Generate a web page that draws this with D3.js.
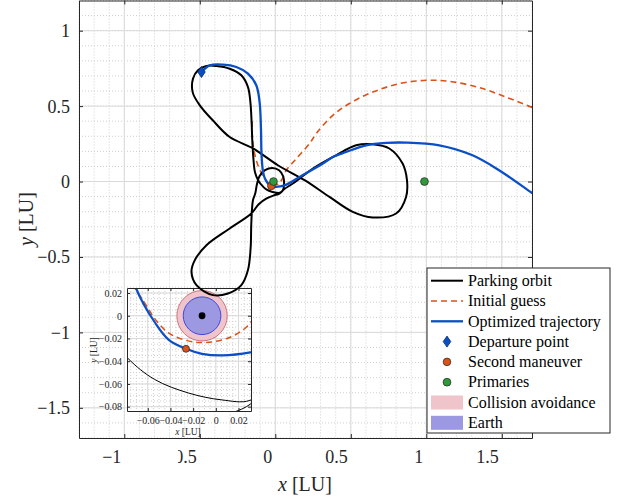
<!DOCTYPE html>
<meta charset="utf-8">
<title>Transfer trajectory</title>
<style>

body {
  margin: 0px;
  background: #fff;
}

svg {
  font-family: "Liberation Serif", "Times New Roman", "DejaVu Serif", serif;
}

.minor line {
  stroke: #cfcfcf;
  stroke-width: 1px;
  stroke-dasharray: 1,2;
}

.major line {
  stroke: #dadada;
  stroke-width: 1px;
}

.axis path, .axis line {
  stroke: #262626;
}

.axis text {
  fill: #262626;
}

</style>

<script src="https://d3js.org/d3.v7.min.js"></script>

<body>
<script>

var width = 622, height = 499;

// mass parameter of the Earth-Moon system
var mu = 0.01215;

// traced curves, [x, y] in LU
var parkingOrbit = [
  [-0.512, 0.737], [-0.456, 0.766], [-0.390, 0.766], [-0.302, 0.748], [-0.225, 0.704],
  [-0.181, 0.626], [-0.165, 0.527], [-0.157, 0.395], [-0.152, 0.262], [-0.145, 0.152],
  [-0.135, 0.064], [-0.112, 0.005], [-0.078, -0.037], [-0.054, -0.056], [-0.024, -0.068],
  [0.005, -0.074], [0.030, -0.0745], [0.050, -0.058], [0.058, -0.02], [0.052, 0.035],
  [0.025, 0.075], [-0.020, 0.090], [-0.068, 0.075], [-0.105, 0.035], [-0.122, -0.02],
  [-0.133, -0.08], [-0.148, -0.124], [-0.159, -0.278], [-0.163, -0.433], [-0.181, -0.587],
  [-0.225, -0.687], [-0.313, -0.742], [-0.412, -0.753], [-0.522, -0.687], [-0.555, -0.599],
  [-0.533, -0.521], [-0.456, -0.422], [-0.302, -0.311], [-0.159, -0.212], [-0.11, -0.150],
  [-0.06, -0.113], [-0.01, -0.092], [0.027, -0.08], [0.06, -0.05], [0.116, -0.013],
  [0.249, 0.086], [0.403, 0.174], [0.535, 0.240], [0.645, 0.247], [0.755, 0.219],
  [0.843, 0.119], [0.872, 0.009], [0.866, -0.102], [0.800, -0.212], [0.645, -0.238],
  [0.513, -0.201], [0.359, -0.102], [0.194, 0.009], [0.017, 0.108], [-0.150, 0.221],
  [-0.302, 0.295], [-0.414, 0.406], [-0.500, 0.505], [-0.547, 0.591], [-0.545, 0.682]
];

var initialGuess = [
  [-0.153, 0.40], [-0.152, 0.30], [-0.14, 0.20], [-0.115, 0.108], [-0.088, 0.05],
  [-0.0636, 0.0127], [-0.0519, -0.005], [-0.0415, -0.0153], [-0.0298, -0.0206],
  [-0.0151, -0.0235], [-0.0004, -0.0226], [0.0143, -0.0182], [0.0275, -0.0094],
  [0.045, 0.015], [0.073, 0.075], [0.139, 0.152], [0.227, 0.252], [0.271, 0.318],
  [0.381, 0.439], [0.491, 0.517], [0.645, 0.593], [0.822, 0.649], [0.998, 0.671],
  [1.152, 0.664], [1.350, 0.623], [1.527, 0.560], [1.681, 0.499], [1.75, 0.47]
];

var optimized = [
  [-0.489, 0.726], [-0.434, 0.770], [-0.346, 0.775], [-0.258, 0.759], [-0.181, 0.715],
  [-0.126, 0.638], [-0.104, 0.527], [-0.095, 0.351], [-0.091, 0.174], [-0.082, 0.070],
  [-0.0704, 0.0244], [-0.0534, -0.0064], [-0.0415, -0.0212], [-0.0263, -0.0291],
  [-0.0122, -0.0335], [0.0055, -0.0349], [0.0304, -0.0323], [0.07, -0.022],
  [0.161, 0.030], [0.315, 0.119], [0.381, 0.163], [0.469, 0.196], [0.601, 0.240],
  [0.734, 0.256], [0.866, 0.258], [1.086, 0.240], [1.306, 0.174], [1.482, 0.075],
  [1.696, -0.073], [1.75, -0.11]
];

var departure = [-0.489, 0.726];
var secondManeuver = [-0.0263, -0.0291];
var primaries = [[-mu, 0], [1 - mu, 0]];

var earthRadius = 0.0166;
var collisionRadius = 0.0222;

var xTicks = [-1, -0.5, 0, 0.5, 1, 1.5];
var yTicks = [-1.5, -1, -0.5, 0, 0.5, 1];
var insetXTicks = [-0.06, -0.04, -0.02, 0, 0.02];
var insetYTicks = [-0.08, -0.06, -0.04, -0.02, 0, 0.02];

var legendLabels = ["Parking orbit", "Initial guess", "Optimized trajectory", "Departure point",
                    "Second maneuver", "Primaries", "Collision avoidance", "Earth"];

var colors = {
  orbit: "#000000",
  guess: "#D95319",
  opt: "#0a4fc6",
  green: "#2f9a3a",
  pink: "#f0c4cb",
  pinkEdge: "#cf7480",
  earth: "#9c98e2",
  earthEdge: "#4049dc"
};

var serif = "Liberation Serif, Times New Roman, DejaVu Serif, serif";

var svg = d3.select("body").append("svg")
    .attr("width", width)
    .attr("height", height);

// ---------- main axes ----------
var x = d3.scaleLinear().domain([-1.3, 1.7]).range([79, 532]);
var y = d3.scaleLinear().domain([-1.7, 1.2]).range([438, 0.5]);

var main = svg.append("g");

main.append("defs").append("clipPath")
    .attr("id", "clipMain")
  .append("rect")
    .attr("x", 79).attr("y", 0.5)
    .attr("width", 453).attr("height", 437.5);

var minorX = d3.range(-13, 18).map(function(d) { return d / 10; });
var minorY = d3.range(-17, 13).map(function(d) { return d / 10; });

main.append("g").attr("class", "minor")
  .selectAll("line").data(minorX).enter().append("line")
    .attr("x1", x).attr("x2", x).attr("y1", 0.5).attr("y2", 438);
main.append("g").attr("class", "minor")
  .selectAll("line").data(minorY).enter().append("line")
    .attr("y1", y).attr("y2", y).attr("x1", 79).attr("x2", 532);
main.append("g").attr("class", "major")
  .selectAll("line").data(xTicks).enter().append("line")
    .attr("x1", x).attr("x2", x).attr("y1", 0.5).attr("y2", 438);
main.append("g").attr("class", "major")
  .selectAll("line").data(yTicks).enter().append("line")
    .attr("y1", y).attr("y2", y).attr("x1", 79).attr("x2", 532);

// axes (ticks pointing inward, box on)
var axB = main.append("g").attr("class", "axis")
    .attr("transform", "translate(0,438)")
    .call(d3.axisBottom(x).tickValues(xTicks).tickSizeInner(-4).tickSizeOuter(0)
          .tickFormat(d3.format("")));
axB.selectAll("text")
    .attr("y", 25).attr("dy", 0)
    .attr("x", -3.5)
    .attr("text-anchor", "end")
    .style("font-size", "18px")
    .style("font-family", serif);

var axL = main.append("g").attr("class", "axis")
    .attr("transform", "translate(79,0)")
    .call(d3.axisLeft(y).tickValues(yTicks).tickSizeInner(-4).tickSizeOuter(0)
          .tickFormat(d3.format("")));
axL.selectAll("text")
    .attr("x", -9).attr("dy", "0.33em")
    .style("font-size", "18px")
    .style("font-family", serif);

main.append("g").attr("class", "axis")
    .attr("transform", "translate(0,0.5)")
    .call(d3.axisTop(x).tickValues(xTicks).tickSizeInner(-4).tickSizeOuter(0).tickFormat(""));
main.append("g").attr("class", "axis")
    .attr("transform", "translate(532,0)")
    .call(d3.axisRight(y).tickValues(yTicks).tickSizeInner(-4).tickSizeOuter(0).tickFormat(""));

svg.selectAll(".axis path.domain").attr("stroke", "#262626").attr("stroke-width", 1);

// axis titles
var xTitle = svg.append("text")
    .attr("x", 305).attr("y", 491)
    .attr("text-anchor", "middle")
    .style("font-size", "20px")
    .style("font-family", serif)
    .style("fill", "#262626");
xTitle.append("tspan").style("font-style", "italic").text("x");
xTitle.append("tspan").text(" [LU]");

var yTitle = svg.append("text")
    .attr("transform", "translate(33,219) rotate(-90)")
    .attr("text-anchor", "middle")
    .style("font-size", "20px")
    .style("font-family", serif)
    .style("fill", "#262626");
yTitle.append("tspan").style("font-style", "italic").text("y");
yTitle.append("tspan").text(" [LU]");

// ---------- inset ----------
var xi = d3.scaleLinear().domain([-0.0783, 0.031]).range([127, 251]);
var yi = d3.scaleLinear().domain([-0.0838, 0.0244]).range([411, 288]);

var inset = svg.append("g");

// the inset's white frame hides part of a main tick label
inset.append("rect")
    .attr("x", 133).attr("y", 444).attr("width", 45).attr("height", 24)
    .attr("fill", "#fff");

inset.append("rect")
    .attr("x", 127).attr("y", 288).attr("width", 124).attr("height", 123)
    .attr("fill", "#fff");

inset.append("defs").append("clipPath")
    .attr("id", "clipInset")
  .append("rect")
    .attr("x", 127).attr("y", 288).attr("width", 124).attr("height", 123);

var iminX = d3.range(-15, 7).map(function(d) { return d * 0.005; });
var iminY = d3.range(-16, 5).map(function(d) { return d * 0.005; });

inset.append("g").attr("class", "minor")
  .selectAll("line").data(iminX).enter().append("line")
    .attr("x1", xi).attr("x2", xi).attr("y1", 288).attr("y2", 411);
inset.append("g").attr("class", "minor")
  .selectAll("line").data(iminY).enter().append("line")
    .attr("y1", yi).attr("y2", yi).attr("x1", 127).attr("x2", 251);
inset.append("g").attr("class", "major")
  .selectAll("line").data(insetXTicks).enter().append("line")
    .attr("x1", xi).attr("x2", xi).attr("y1", 288).attr("y2", 411);
inset.append("g").attr("class", "major")
  .selectAll("line").data(insetYTicks).enter().append("line")
    .attr("y1", yi).attr("y2", yi).attr("x1", 127).attr("x2", 251);

var iline = d3.line()
    .x(function(d) { return xi(d[0]); })
    .y(function(d) { return yi(d[1]); })
    .curve(d3.curveCatmullRom);

var icurves = inset.append("g").attr("clip-path", "url(#clipInset)");

icurves.append("circle")
    .attr("cx", xi(-mu)).attr("cy", yi(0))
    .attr("r", xi(collisionRadius) - xi(0))
    .attr("fill", colors.pink)
    .attr("stroke", colors.pinkEdge)
    .attr("stroke-width", 1);

icurves.append("circle")
    .attr("cx", xi(-mu)).attr("cy", yi(0))
    .attr("r", xi(earthRadius) - xi(0))
    .attr("fill", colors.earth)
    .attr("stroke", colors.earthEdge)
    .attr("stroke-width", 1);

icurves.append("path")
    .datum(initialGuess)
    .attr("d", iline)
    .attr("fill", "none")
    .attr("stroke", colors.guess)
    .attr("stroke-width", 1.5)
    .attr("stroke-dasharray", "6,4");

icurves.append("path")
    .datum(parkingOrbit)
    .attr("d", iline.curve(d3.curveCatmullRomClosed))
    .attr("fill", "none")
    .attr("stroke", colors.orbit)
    .attr("stroke-width", 1);

iline.curve(d3.curveCatmullRom);

icurves.append("path")
    .datum(optimized)
    .attr("d", iline)
    .attr("fill", "none")
    .attr("stroke", colors.opt)
    .attr("stroke-width", 2.2);

icurves.append("circle")
    .attr("cx", xi(secondManeuver[0])).attr("cy", yi(secondManeuver[1]))
    .attr("r", 3.5)
    .attr("fill", colors.guess)
    .attr("stroke", "#222")
    .attr("stroke-width", 0.7);

icurves.append("circle")
    .attr("cx", xi(-mu)).attr("cy", yi(0))
    .attr("r", 3.4)
    .attr("fill", "#000");

var iaxB = inset.append("g").attr("class", "axis")
    .attr("transform", "translate(0,411)")
    .call(d3.axisBottom(xi).tickValues(insetXTicks).tickSizeInner(-3).tickSizeOuter(0)
          .tickFormat(d3.format("")));
iaxB.selectAll("text")
    .attr("y", 13).attr("dy", 0)
    .style("font-size", "10px")
    .style("font-family", serif);

var iaxL = inset.append("g").attr("class", "axis")
    .attr("transform", "translate(127,0)")
    .call(d3.axisLeft(yi).tickValues(insetYTicks).tickSizeInner(-3).tickSizeOuter(0)
          .tickFormat(d3.format("")));
iaxL.selectAll("text")
    .attr("x", -5).attr("dy", "0.33em")
    .style("font-size", "10px")
    .style("font-family", serif);

inset.append("g").attr("class", "axis")
    .attr("transform", "translate(0,288)")
    .call(d3.axisTop(xi).tickValues(insetXTicks).tickSizeInner(-3).tickSizeOuter(0).tickFormat(""));
inset.append("g").attr("class", "axis")
    .attr("transform", "translate(251,0)")
    .call(d3.axisRight(yi).tickValues(insetYTicks).tickSizeInner(-3).tickSizeOuter(0).tickFormat(""));

inset.selectAll(".axis path.domain").attr("stroke", "#262626").attr("stroke-width", 1);

var ixTitle = inset.append("text")
    .attr("x", 188).attr("y", 435)
    .attr("text-anchor", "middle")
    .style("font-size", "9.5px")
    .style("font-family", serif)
    .style("fill", "#262626");
ixTitle.append("tspan").style("font-style", "italic").text("x");
ixTitle.append("tspan").text(" [LU]");

var iyTitle = inset.append("text")
    .attr("transform", "translate(97,350) rotate(-90)")
    .attr("text-anchor", "middle")
    .style("font-size", "9.5px")
    .style("font-family", serif)
    .style("fill", "#262626");
iyTitle.append("tspan").style("font-style", "italic").text("y");
iyTitle.append("tspan").text(" [LU]");

// ---------- main curves (drawn over the inset frame, as in the source) ----------
var line = d3.line()
    .x(function(d) { return x(d[0]); })
    .y(function(d) { return y(d[1]); })
    .curve(d3.curveCatmullRom);

var curves = svg.append("g").attr("clip-path", "url(#clipMain)");

curves.append("path")
    .datum(initialGuess)
    .attr("d", line)
    .attr("fill", "none")
    .attr("stroke", colors.guess)
    .attr("stroke-width", 1.6)
    .attr("stroke-dasharray", "6,4");

curves.append("path")
    .datum(parkingOrbit)
    .attr("d", line.curve(d3.curveCatmullRomClosed))
    .attr("fill", "none")
    .attr("stroke", colors.orbit)
    .attr("stroke-width", 2);

line.curve(d3.curveCatmullRom);

curves.append("path")
    .datum(optimized)
    .attr("d", line)
    .attr("fill", "none")
    .attr("stroke", colors.opt)
    .attr("stroke-width", 2.3);

var diamond = "M0,-5.5L3.8,0L0,5.5L-3.8,0Z";

curves.append("path")
    .attr("d", diamond)
    .attr("transform", "translate(" + [x(departure[0]), y(departure[1])] + ")")
    .attr("fill", colors.opt)
    .attr("stroke", "#0b2a66")
    .attr("stroke-width", 0.8);

curves.append("circle")
    .attr("cx", x(secondManeuver[0])).attr("cy", y(secondManeuver[1]))
    .attr("r", 3.8)
    .attr("fill", colors.guess)
    .attr("stroke", "#222")
    .attr("stroke-width", 0.7);

curves.selectAll("circle.primary")
    .data(primaries)
  .enter().append("circle")
    .attr("class", "primary")
    .attr("cx", function(d) { return x(d[0]); })
    .attr("cy", function(d) { return y(d[1]); })
    .attr("r", 3.9)
    .attr("fill", colors.green)
    .attr("stroke", "#222")
    .attr("stroke-width", 0.7);

// ---------- legend ----------
var legend = svg.append("g")
    .attr("transform", "translate(427,268)");

legend.append("rect")
    .attr("width", 183).attr("height", 165)
    .attr("fill", "#fff")
    .attr("stroke", "#262626")
    .attr("stroke-width", 1);

var item = legend.selectAll(".item")
    .data(legendLabels)
  .enter().append("g")
    .attr("class", "item")
    .attr("transform", function(d, i) { return "translate(0," + (12.7 + i * 20.3) + ")"; });

item.append("text")
    .attr("x", 41).attr("dy", "0.33em")
    .style("font-size", "16px")
    .style("font-family", serif)
    .style("fill", "#000")
    .text(function(d) { return d; });

var samples = [
  function(g) { g.append("line").attr("x1", 4).attr("x2", 36).attr("stroke", colors.orbit).attr("stroke-width", 2); },
  function(g) { g.append("line").attr("x1", 4).attr("x2", 36).attr("stroke", colors.guess).attr("stroke-width", 1.6).attr("stroke-dasharray", "6,4"); },
  function(g) { g.append("line").attr("x1", 4).attr("x2", 36).attr("stroke", colors.opt).attr("stroke-width", 2.3); },
  function(g) { g.append("path").attr("d", diamond).attr("transform", "translate(20,0)").attr("fill", colors.opt).attr("stroke", "#0b2a66").attr("stroke-width", 0.8); },
  function(g) { g.append("circle").attr("cx", 20).attr("r", 3.8).attr("fill", colors.guess).attr("stroke", "#222").attr("stroke-width", 0.7); },
  function(g) { g.append("circle").attr("cx", 20).attr("r", 3.9).attr("fill", colors.green).attr("stroke", "#222").attr("stroke-width", 0.7); },
  function(g) { g.append("rect").attr("x", 4).attr("y", -7).attr("width", 32).attr("height", 14).attr("fill", colors.pink); },
  function(g) { g.append("rect").attr("x", 4).attr("y", -7).attr("width", 32).attr("height", 14).attr("fill", colors.earth); }
];

item.each(function(d, i) { samples[i](d3.select(this)); });

</script>
